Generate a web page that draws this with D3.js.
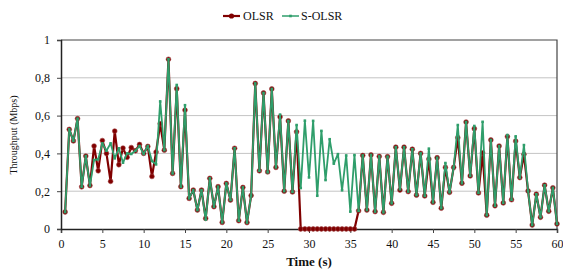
<!DOCTYPE html>
<html>
<head>
<meta charset="utf-8">
<script src="https://cdn.jsdelivr.net/npm/d3@7"></script>
<style>
  body { margin: 0; background: #fff; }
  svg { display: block; font-family: "Liberation Serif", "Times New Roman", serif; }
</style>
</head>
<body>
<svg id="chart" width="563" height="271"></svg>
<script>
// time in seconds, one sample every 0.5 s
const time = [
  0.5, 1, 1.5, 2, 2.5, 3, 3.5, 4, 4.5, 5, 5.5, 6, 6.5, 7, 7.5, 8, 8.5, 9, 9.5, 10,
  10.5, 11, 11.5, 12, 12.5, 13, 13.5, 14, 14.5, 15, 15.5, 16, 16.5, 17, 17.5, 18, 18.5, 19, 19.5, 20,
  20.5, 21, 21.5, 22, 22.5, 23, 23.5, 24, 24.5, 25, 25.5, 26, 26.5, 27, 27.5, 28, 28.5, 29, 29.5, 30,
  30.5, 31, 31.5, 32, 32.5, 33, 33.5, 34, 34.5, 35, 35.5, 36, 36.5, 37, 37.5, 38, 38.5, 39, 39.5, 40,
  40.5, 41, 41.5, 42, 42.5, 43, 43.5, 44, 44.5, 45, 45.5, 46, 46.5, 47, 47.5, 48, 48.5, 49, 49.5, 50,
  50.5, 51, 51.5, 52, 52.5, 53, 53.5, 54, 54.5, 55, 55.5, 56, 56.5, 57, 57.5, 58, 58.5, 59, 59.5, 60
];

const olsr = [
  0.09, 0.527, 0.466, 0.584, 0.223, 0.386, 0.23, 0.439, 0.308, 0.468, 0.40, 0.252, 0.518, 0.34, 0.428, 0.379, 0.431, 0.414, 0.447, 0.40,
  0.437, 0.278, 0.407, 0.557, 0.417, 0.898, 0.294, 0.742, 0.224, 0.629, 0.162, 0.206, 0.10, 0.206, 0.056, 0.268, 0.118, 0.224, 0.035, 0.241,
  0.153, 0.427, 0.044, 0.22, 0.034, 0.177, 0.77, 0.308, 0.72, 0.302, 0.741, 0.326, 0.593, 0.20, 0.572, 0.196, 0.514, 0, 0, 0,
  0, 0, 0, 0, 0, 0, 0, 0, 0, 0, 0, 0.096, 0.389, 0.10, 0.392, 0.092, 0.384, 0.088, 0.383, 0.136,
  0.433, 0.206, 0.433, 0.198, 0.422, 0.179, 0.40, 0.175, 0.37, 0.141, 0.377, 0.11, 0.326, 0.194, 0.326, 0.483, 0.242, 0.566, 0.281, 0.531,
  0.191, 0.403, 0.073, 0.471, 0.123, 0.439, 0.138, 0.489, 0.155, 0.465, 0.272, 0.395, 0.201, 0.021, 0.184, 0.062, 0.232, 0.094, 0.218, 0.027
];

const solsr = [
  0.09, 0.527, 0.466, 0.584, 0.223, 0.386, 0.23, 0.365, 0.369, 0.453, 0.414, 0.453, 0.374, 0.427, 0.351, 0.40, 0.397, 0.414, 0.439, 0.397,
  0.439, 0.36, 0.342, 0.675, 0.417, 0.898, 0.294, 0.762, 0.224, 0.655, 0.162, 0.206, 0.10, 0.206, 0.05, 0.268, 0.118, 0.224, 0.035, 0.241,
  0.153, 0.427, 0.044, 0.22, 0.034, 0.177, 0.77, 0.308, 0.72, 0.30, 0.741, 0.326, 0.605, 0.20, 0.572, 0.196, 0.55, 0.217, 0.573, 0.273,
  0.572, 0.176, 0.519, 0.259, 0.475, 0.346, 0.396, 0.205, 0.389, 0.092, 0.391, 0.096, 0.389, 0.10, 0.392, 0.092, 0.384, 0.088, 0.383, 0.136,
  0.433, 0.21, 0.433, 0.198, 0.422, 0.179, 0.40, 0.175, 0.425, 0.141, 0.377, 0.11, 0.349, 0.194, 0.326, 0.55, 0.242, 0.566, 0.281, 0.545,
  0.191, 0.567, 0.073, 0.471, 0.123, 0.439, 0.138, 0.497, 0.155, 0.49, 0.272, 0.444, 0.201, 0.021, 0.184, 0.062, 0.232, 0.094, 0.218, 0.027
];

const xTicks = [0, 5, 10, 15, 20, 25, 30, 35, 40, 45, 50, 55, 60];
const yTicks = [0, 0.2, 0.4, 0.6, 0.8, 1];
const yTickLabels = ["0", "0,2", "0,4", "0,6", "0,8", "1"];

const red = "#800000";
const green = "#2f9e6b";

const svg = d3.select("#chart");

const xScale = d3.scaleLinear().domain([0, 60]).range([61, 557]);
const yScale = d3.scaleLinear().domain([0, 1]).range([229, 40]);

// gridlines
svg.append("g")
    .selectAll("line")
    .data(yTicks.slice(1, -1))
    .enter().append("line")
    .attr("x1", xScale(0))
    .attr("x2", xScale(60))
    .attr("y1", d => yScale(d))
    .attr("y2", d => yScale(d))
    .attr("stroke", "#c4c4c4")
    .attr("stroke-width", 1);

// frame (top and right)
svg.append("path")
    .attr("d", `M${xScale(0)},${yScale(1)}H${xScale(60)}V${yScale(0)}`)
    .attr("fill", "none")
    .attr("stroke", "#444")
    .attr("stroke-width", 1.2);

// axes
const xAxis = svg.append("g")
    .attr("transform", `translate(0, ${yScale(0)})`)
    .call(d3.axisBottom(xScale).tickValues(xTicks).tickSize(4).tickPadding(6).tickFormat(d3.format("d")));

const yAxis = svg.append("g")
    .attr("transform", `translate(${xScale(0)}, 0)`)
    .call(d3.axisLeft(yScale).tickValues(yTicks).tickSize(4).tickPadding(7).tickFormat((d, i) => yTickLabels[i]));

[xAxis, yAxis].forEach(ax => {
    ax.select(".domain").attr("stroke", "#222").attr("stroke-width", 1.5);
    ax.selectAll(".tick line").attr("stroke", "#444");
    ax.selectAll(".tick text")
        .attr("fill", "#111")
        .style("font-family", "'Liberation Serif', serif")
        .style("font-size", "12px");
});

const points = time.map((t, i) => ({ t: t, a: olsr[i], b: solsr[i] }));

const line = key => d3.line().x(d => xScale(d.t)).y(d => yScale(d[key]));

// OLSR
svg.append("path")
    .datum(points)
    .attr("fill", "none")
    .attr("stroke", red)
    .attr("stroke-width", 2.2)
    .attr("stroke-linejoin", "round")
    .attr("d", line("a"));

svg.selectAll(".olsr-dot")
    .data(points)
    .enter().append("circle")
    .attr("class", "olsr-dot")
    .attr("cx", d => xScale(d.t))
    .attr("cy", d => yScale(d.a))
    .attr("r", 2.4)
    .attr("fill", red)
    .attr("stroke", "#a04040")
    .attr("stroke-width", 0.6);

// S-OLSR on top
svg.append("path")
    .datum(points)
    .attr("fill", "none")
    .attr("stroke", green)
    .attr("stroke-width", 1.8)
    .attr("stroke-linejoin", "round")
    .attr("d", line("b"));

svg.selectAll(".solsr-dot")
    .data(points)
    .enter().append("rect")
    .attr("class", "solsr-dot")
    .attr("x", d => xScale(d.t) - 1.3)
    .attr("y", d => yScale(d.b) - 1.3)
    .attr("width", 2.6)
    .attr("height", 2.6)
    .attr("fill", green);

// titles
svg.append("text")
    .attr("x", 309)
    .attr("y", 266)
    .style("text-anchor", "middle")
    .style("font-size", "13px")
    .style("font-weight", "bold")
    .attr("fill", "#111")
    .text("Time (s)");

svg.append("text")
    .attr("transform", "translate(17, 135) rotate(-90)")
    .style("text-anchor", "middle")
    .style("font-size", "10px")
    .attr("fill", "#111")
    .text("Throughput (Mbps)");

// legend
const legend = svg.append("g");

legend.append("line")
    .attr("x1", 223).attr("x2", 240).attr("y1", 16).attr("y2", 16)
    .attr("stroke", red).attr("stroke-width", 2.2);
legend.append("circle")
    .attr("cx", 231.5).attr("cy", 16).attr("r", 2.6).attr("fill", red);
legend.append("text")
    .attr("x", 243).attr("y", 20)
    .style("font-size", "12px").attr("fill", "#111")
    .text("OLSR");

legend.append("line")
    .attr("x1", 282).attr("x2", 299).attr("y1", 16).attr("y2", 16)
    .attr("stroke", green).attr("stroke-width", 1.5);
legend.append("rect")
    .attr("x", 289.2).attr("y", 14.7).attr("width", 2.6).attr("height", 2.6).attr("fill", green);
legend.append("text")
    .attr("x", 301).attr("y", 20)
    .style("font-size", "12px").attr("fill", "#111")
    .text("S-OLSR");
</script>
</body>
</html>
